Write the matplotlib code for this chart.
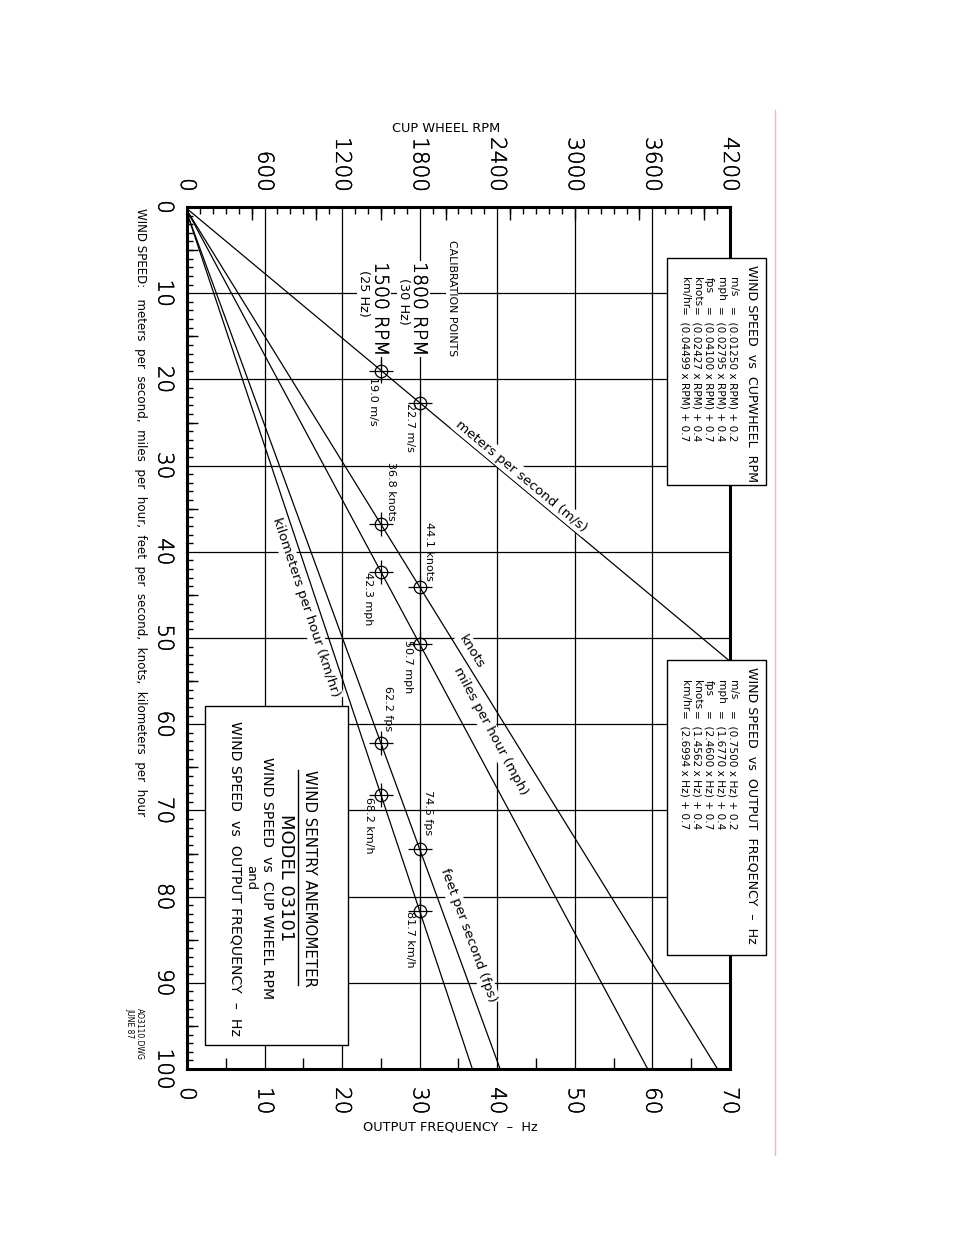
import numpy as np
import matplotlib
matplotlib.use("Agg")
import matplotlib.pyplot as plt
import matplotlib.patheffects as pe
from matplotlib.patches import Rectangle
from matplotlib.lines import Line2D
from matplotlib.ticker import MultipleLocator

# ---------------- data ----------------
units = ["m/s", "mph", "fps", "knots", "km/hr"]
rpm_coef = [0.01250, 0.02795, 0.04100, 0.02427, 0.04499]
hz_coef = [0.7500, 1.6770, 2.4600, 1.4562, 2.6994]
intercepts = [0.2, 0.4, 0.7, 0.4, 0.7]
line_names = ["meters per second (m/s)", "miles per hour (mph)",
              "feet per second (fps)", "knots", "kilometers per hour (km/hr)"]
cal_hz = [25, 30]
cal_rpm = [1500, 1800]
cal_ms = [19.0, 22.7]
cal_mph = [42.3, 50.7]
cal_fps = [62.2, 74.5]
cal_knots = [36.8, 44.1]
cal_kmh = [68.2, 81.7]
cal_units = ["m/s", "mph", "fps", "knots", "km/h"]
rpm_ticks = [0, 600, 1200, 1800, 2400, 3000, 3600, 4200]
hz_ticks = [0, 10, 20, 30, 40, 50, 60, 70]
speed_ticks = [0, 10, 20, 30, 40, 50, 60, 70, 80, 90, 100]

W, H = 954, 1235
plt.rcParams["font.family"] = ["DejaVu Sans"]
THIN = [pe.withStroke(linewidth=0.3, foreground="black")]

fig = plt.figure(figsize=(W / 100, H / 100), dpi=100)
L, R, T, B = 187, 730, 207, 1069
ax = fig.add_axes([L / W, 1 - B / H, (R - L) / W, (B - T) / H])
ax.set_xlim(0, 70)
ax.set_ylim(100, 0)

for s in ax.spines.values():
    s.set_linewidth(2.2)

# grid
ax.set_axisbelow(True)
ax.grid(True, color="black", lw=0.9)

BIG = 15.5
# bottom axis (Hz)
ax.set_xticks(hz_ticks, labels=[str(v) for v in hz_ticks], rotation=-90, fontweight="light",
              path_effects=THIN)
ax.tick_params(axis="x", which="major", length=0, pad=13, labelsize=BIG)
ax.xaxis.set_minor_locator(MultipleLocator(5))
ax.tick_params(axis="x", which="minor", direction="in", length=8, width=1, top=False)

# left axis (wind speed)
ax.set_yticks(speed_ticks, labels=[str(v) for v in speed_ticks], rotation=-90, va="center",
              fontweight="light", path_effects=THIN)
ax.tick_params(axis="y", which="major", length=0, pad=9, labelsize=BIG)
ax.yaxis.set_minor_locator(MultipleLocator(1))
ax.tick_params(axis="y", which="minor", direction="in", length=4, width=1, right=False)

ly = ax.secondary_yaxis("left")
ly.set_yticks(list(range(5, 100, 10)), labels=[""] * 10)
ly.tick_params(direction="in", length=8, width=1)
for s in ly.spines.values():
    s.set_visible(False)

# top axis (RPM)
to_rpm = (lambda h: h * 60.0, lambda r: r / 60.0)
sec = ax.secondary_xaxis("top", functions=to_rpm)
sec.set_xticks(rpm_ticks, labels=[str(v) for v in rpm_ticks], rotation=-90, fontweight="light",
               path_effects=THIN)
sec.tick_params(axis="x", which="major", length=0, pad=11, labelsize=BIG)
sec.xaxis.set_minor_locator(MultipleLocator(100))
sec.tick_params(axis="x", which="minor", direction="in", length=5, width=1)
for s in sec.spines.values():
    s.set_visible(False)
sec2 = ax.secondary_xaxis("top", functions=to_rpm)
sec2.set_xticks(list(range(500, 4200, 500)), labels=[""] * 8)
sec2.tick_params(axis="x", direction="in", length=9, width=1)
for s in sec2.spines.values():
    s.set_visible(False)

# lines
hz_span = np.array([0.0, 70.0])
for a, b in zip(hz_coef, intercepts):
    ax.plot(hz_span, a * hz_span + b, color="black", lw=0.9, zorder=3)

# calibration leader line at 25 Hz
ax.plot([cal_hz[0], cal_hz[0]], [8, cal_ms[0]], color="black", lw=0.9, zorder=3)

# calibration points
cal_all = [cal_ms, cal_mph, cal_fps, cal_knots, cal_kmh]
for vals in cal_all:
    ax.plot(cal_hz, vals, "o", ms=9, mfc="none", mec="black", mew=0.9, zorder=4)
    ax.plot(cal_hz, vals, "+", ms=17, mec="black", mew=0.9, zorder=4)

# calibration value labels (offset in pixels)
cal_offsets = [
    [(-8, -31), (-10, -25)],   # m/s
    [(-13, -27), (-12, -23)],  # mph
    [(7, 35), (8, 37)],        # fps
    [(10, 33), (9, 36)],       # knots
    [(-12, -30), (-10, -28)],  # km/h
]
for vals, u, offs in zip(cal_all, cal_units, cal_offsets):
    for h, v, o in zip(cal_hz, vals, offs):
        ax.annotate(f"{v:.1f} {u}", (h, v), xytext=o, textcoords="offset pixels",
                    rotation=-90, ha="center", va="center", fontsize=8, zorder=5)

# line name labels along lines
label_hz = [42.4, 36.7, 34.3, 35.6, 16.8]
label_off = [9, 21, 16, 10, -12]
for name, a, b, h, off in zip(line_names, hz_coef, intercepts, label_hz, label_off):
    p0 = ax.transData.transform((h, a * h + b))
    p1 = ax.transData.transform((h + 1, a * (h + 1) + b))
    ang = np.degrees(np.arctan2(p1[1] - p0[1], p1[0] - p0[0]))
    nx, ny = -np.sin(np.radians(ang)), np.cos(np.radians(ang))
    ax.annotate(name, (h, a * h + b), xytext=(nx * off, ny * off), textcoords="offset pixels",
                rotation=ang, rotation_mode="anchor", ha="center", va="center", fontsize=9.7,
                zorder=5, bbox=dict(boxstyle="square,pad=0.15", fc="white", ec="none"))

# calibration header texts
for h, rpm in zip(cal_hz, cal_rpm):
    ax.text(h, 6.4, f"{rpm} RPM", rotation=-90, ha="center", va="top",
            fontsize=13.5, fontweight="light", zorder=5, path_effects=THIN,
            bbox=dict(boxstyle="square,pad=0.05", fc="white", ec="none"))


def ftext(x, y, s, rot=-90, **kw):
    return fig.text(x / W, 1 - y / H, s, rotation=rot, **kw)


ftext(404, 278, f"({cal_hz[1]} Hz)", ha="center", va="top", fontsize=9.3, zorder=6,
      bbox=dict(boxstyle="square,pad=0.05", fc="white", ec="none"))
ftext(364, 270, f"({cal_hz[0]} Hz)", ha="center", va="top", fontsize=9.3, zorder=6,
      bbox=dict(boxstyle="square,pad=0.05", fc="white", ec="none"))
ftext(452, 240, "CALIBRATION POINTS", ha="center", va="top", fontsize=7.8, zorder=6,
      bbox=dict(boxstyle="square,pad=0.1", fc="white", ec="none"))

# axis titles
ftext(446, 128, "CUP WHEEL RPM", rot=0, ha="center", va="center", fontsize=9.3)
ftext(450, 1127, "OUTPUT FREQUENCY  \u2013  Hz", rot=0, ha="center", va="center", fontsize=9.3)
ftext(140, 208, "WIND SPEED:   meters  per  second,  miles  per  hour,  feet  per  second,  knots,  kilometers  per  hour",
      ha="center", va="top", fontsize=8.6)
ftext(139, 1008, "AO3110.DWG", ha="center", va="top", fontsize=5.5)
ftext(130, 1008, "JUNE 87", ha="center", va="top", fontsize=5.5)


def fbox(x0, y0, x1, y1):
    fig.add_artist(Rectangle((x0 / W, 1 - y1 / H), (x1 - x0) / W, (y1 - y0) / H,
                             transform=fig.transFigure, fc="white", ec="black", lw=1, zorder=5))


EQ = 7.6
# equation box 1 (RPM)
fbox(667, 258, 766, 485)
ftext(752, 265, "WIND SPEED  vs  CUPWHEEL  RPM", ha="center", va="top", fontsize=9.1, zorder=6)
eq_x = [733, 721, 709, 697, 685]
for x, u, c, b in zip(eq_x, units, rpm_coef, intercepts):
    ftext(x, 277, u, ha="center", va="top", fontsize=EQ, zorder=6)
    ftext(x, 306, f"=  ({c:.5f} x RPM) + {b}", ha="center", va="top", fontsize=EQ, zorder=6)

# equation box 2 (Hz)
fbox(667, 660, 766, 955)
ftext(752, 667, "WIND SPEED  vs  OUTPUT  FREQENCY  \u2013  Hz", ha="center", va="top", fontsize=9.1, zorder=6)
for x, u, c, b in zip(eq_x, units, hz_coef, intercepts):
    ftext(x, 680, u, ha="center", va="top", fontsize=EQ, zorder=6)
    ftext(x, 710, f"=  ({c:.4f} x Hz) + {b}", ha="center", va="top", fontsize=EQ, zorder=6)

# title box
TB = 10.2
fbox(205, 706, 348, 1045)
ftext(310, 878, "WIND SENTRY ANEMOMETER", ha="center", va="center", fontsize=10.8, zorder=6)
fig.add_artist(Line2D([298 / W, 298 / W], [1 - 770 / H, 1 - 985 / H], color="black", lw=1,
                      transform=fig.transFigure, zorder=6))
ftext(286, 878, "MODEL 03101", ha="center", va="center", fontsize=13, zorder=6)
ftext(267, 878, "WIND SPEED  vs  CUP WHEEL RPM", ha="center", va="center", fontsize=TB, zorder=6)
ftext(251, 878, "and", ha="center", va="center", fontsize=9.5, zorder=6)
ftext(236, 878, "WIND SPEED  vs  OUTPUT FREQUENCY  \u2013  Hz", ha="center", va="center", fontsize=TB, zorder=6)

# page border artifact (pink line)
fig.add_artist(Line2D([775 / W, 775 / W], [1 - 110 / H, 1 - 1155 / H], color="#f3b9b9", lw=1,
                      transform=fig.transFigure))

fig.savefig("out.png", dpi=100, facecolor="white")
